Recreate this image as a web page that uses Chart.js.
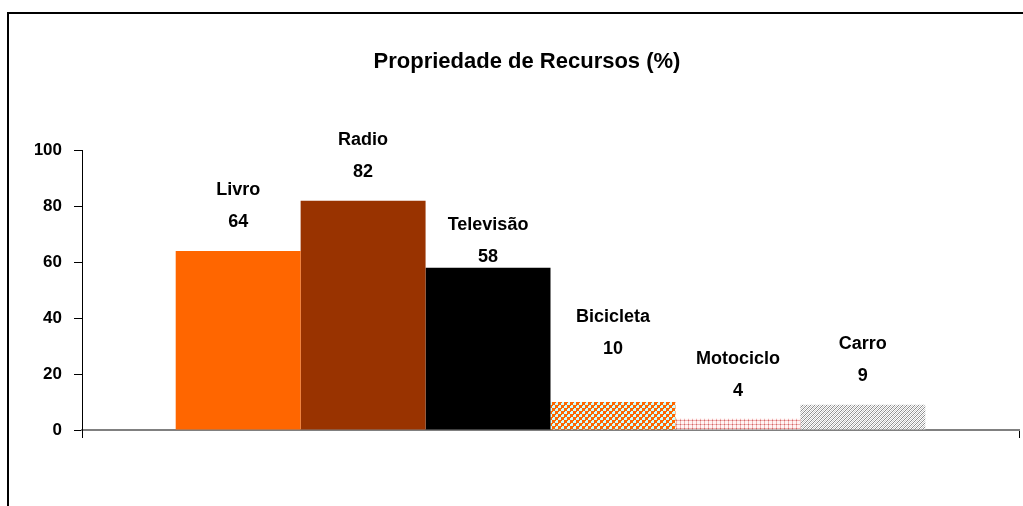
<!DOCTYPE html>
<html>
<head>
<meta charset="utf-8">
<script src="https://cdn.jsdelivr.net/npm/chart.js@4"></script>
<style>
  html, body { margin: 0; padding: 0; background: #fff; overflow: hidden; }
  #wrap { position: relative; width: 1023px; height: 506px; }
  #frame { position: absolute; left: 7px; top: 12px; width: 2000px; height: 2000px; border: 2px solid #000; }
  #myBarChart { position: absolute; left: 0; top: 0; }
</style>
</head>
<body>
<div id="wrap">
  <div id="frame"></div>
  <canvas id="myBarChart" width="1023" height="506"></canvas>
</div>
<script>
'use strict'

const recursos = ["Livro", "Radio", "Televisão", "Bicicleta", "Motociclo", "Carro"];
const percentagens = [64, 82, 58, 10, 4, 9];
const yTicks = [0, 20, 40, 60, 80, 100];

// how far above each bar the value line sits (px)
const labelLift = [29, 29, 11, 53, 28, 29];

const FONT = "'Liberation Sans', Arial, sans-serif";

function makePattern (w, h, paint) {
    const c = document.createElement("canvas");
    c.width = w;
    c.height = h;
    paint(c.getContext("2d"));
    return c.getContext("2d").createPattern(c, "repeat");
}

// checkerboard orange / light cyan
const xadrez = makePattern(6, 6, (g) => {
    g.fillStyle = "#CCFFFF";
    g.fillRect(0, 0, 6, 6);
    g.fillStyle = "#FF6600";
    g.fillRect(0, 0, 3, 3);
    g.fillRect(3, 3, 3, 3);
    g.fillRect(0, 3, 1, 1);
    g.fillRect(3, 0, 1, 1);
});

// fine pink grid
const grelha = makePattern(4, 4, (g) => {
    g.fillStyle = "#FFF4F4";
    g.fillRect(0, 0, 4, 4);
    g.fillStyle = "#EFB0B0";
    g.fillRect(0, 0, 4, 1);
    g.fillRect(0, 0, 1, 4);
    g.fillStyle = "#D06868";
    g.fillRect(0, 0, 1, 1);
});

// dense grey diagonals
const diagonal = makePattern(4, 4, (g) => {
    g.fillStyle = "#FFFFFF";
    g.fillRect(0, 0, 4, 4);
    g.fillStyle = "#8C8C8C";
    for (let i = 0; i < 4; i++) {
        g.fillRect(3 - i, i, 1, 1);
    }
    g.fillStyle = "#C8C8C8";
    for (let i = 0; i < 4; i++) {
        g.fillRect((5 - i) % 4, i, 1, 1);
    }
});

const cores = ["#FF6600", "#993300", "#000000", xadrez, grelha, diagonal];

/* nome e valor por cima de cada barra */
const barLabels = {
    id: "barLabels",
    afterDatasetsDraw (chart) {
        const c = chart.ctx;
        c.save();
        c.fillStyle = "#000";
        c.textAlign = "center";
        c.textBaseline = "middle";
        c.font = "bold 18px " + FONT;
        chart.data.datasets.forEach((ds, i) => {
            const bar = chart.getDatasetMeta(i).data[0];
            const yv = bar.y - labelLift[i];
            c.fillText(ds.label, bar.x, yv - 32);
            c.fillText(String(ds.data[0]), bar.x, yv);
        });
        c.restore();
    }
};

let ctx = document.getElementById("myBarChart");

drawBarChart();

function drawBarChart () {
    ctx = new Chart(ctx, {
        type: "bar",
        data: {
            labels: [""],
            datasets: recursos.map((nome, i) => ({
                label: nome,
                data: [percentagens[i]],
                backgroundColor: cores[i],
                borderWidth: 0,
                categoryPercentage: 0.8,
                barPercentage: 1.0
            }))
        },
        plugins: [barLabels],
        options: {
            responsive: false,
            animation: false,
            layout: { padding: { top: 0, right: 4, bottom: 0, left: 35 } },
            plugins: {
                legend: { display: false },
                tooltip: { enabled: false },
                title: {
                    display: true,
                    text: "Propriedade de Recursos (%)",
                    color: "#000",
                    font: { family: FONT, size: 22, weight: "bold" },
                    padding: { top: 49, bottom: 75 }
                }
            },
            scales: {
                x: {
                    ticks: { display: false },
                    grid: {
                        offset: true,
                        drawOnChartArea: false,
                        drawTicks: true,
                        tickLength: 8,
                        color: "#000"
                    },
                    border: { color: "#808080", width: 2 },
                    afterFit (scale) { scale.height = 76; }
                },
                y: {
                    min: 0,
                    max: 100,
                    afterBuildTicks (scale) {
                        scale.ticks = yTicks.map((v) => ({ value: v }));
                    },
                    ticks: {
                        color: "#000",
                        padding: 12,
                        font: { family: FONT, size: 17, weight: "bold" }
                    },
                    grid: {
                        drawOnChartArea: false,
                        tickLength: 8,
                        color: "#000"
                    },
                    border: { color: "#000", width: 1 },
                    afterFit (scale) { scale.width = 47; }
                }
            }
        }
    });
}
</script>
</body>
</html>
